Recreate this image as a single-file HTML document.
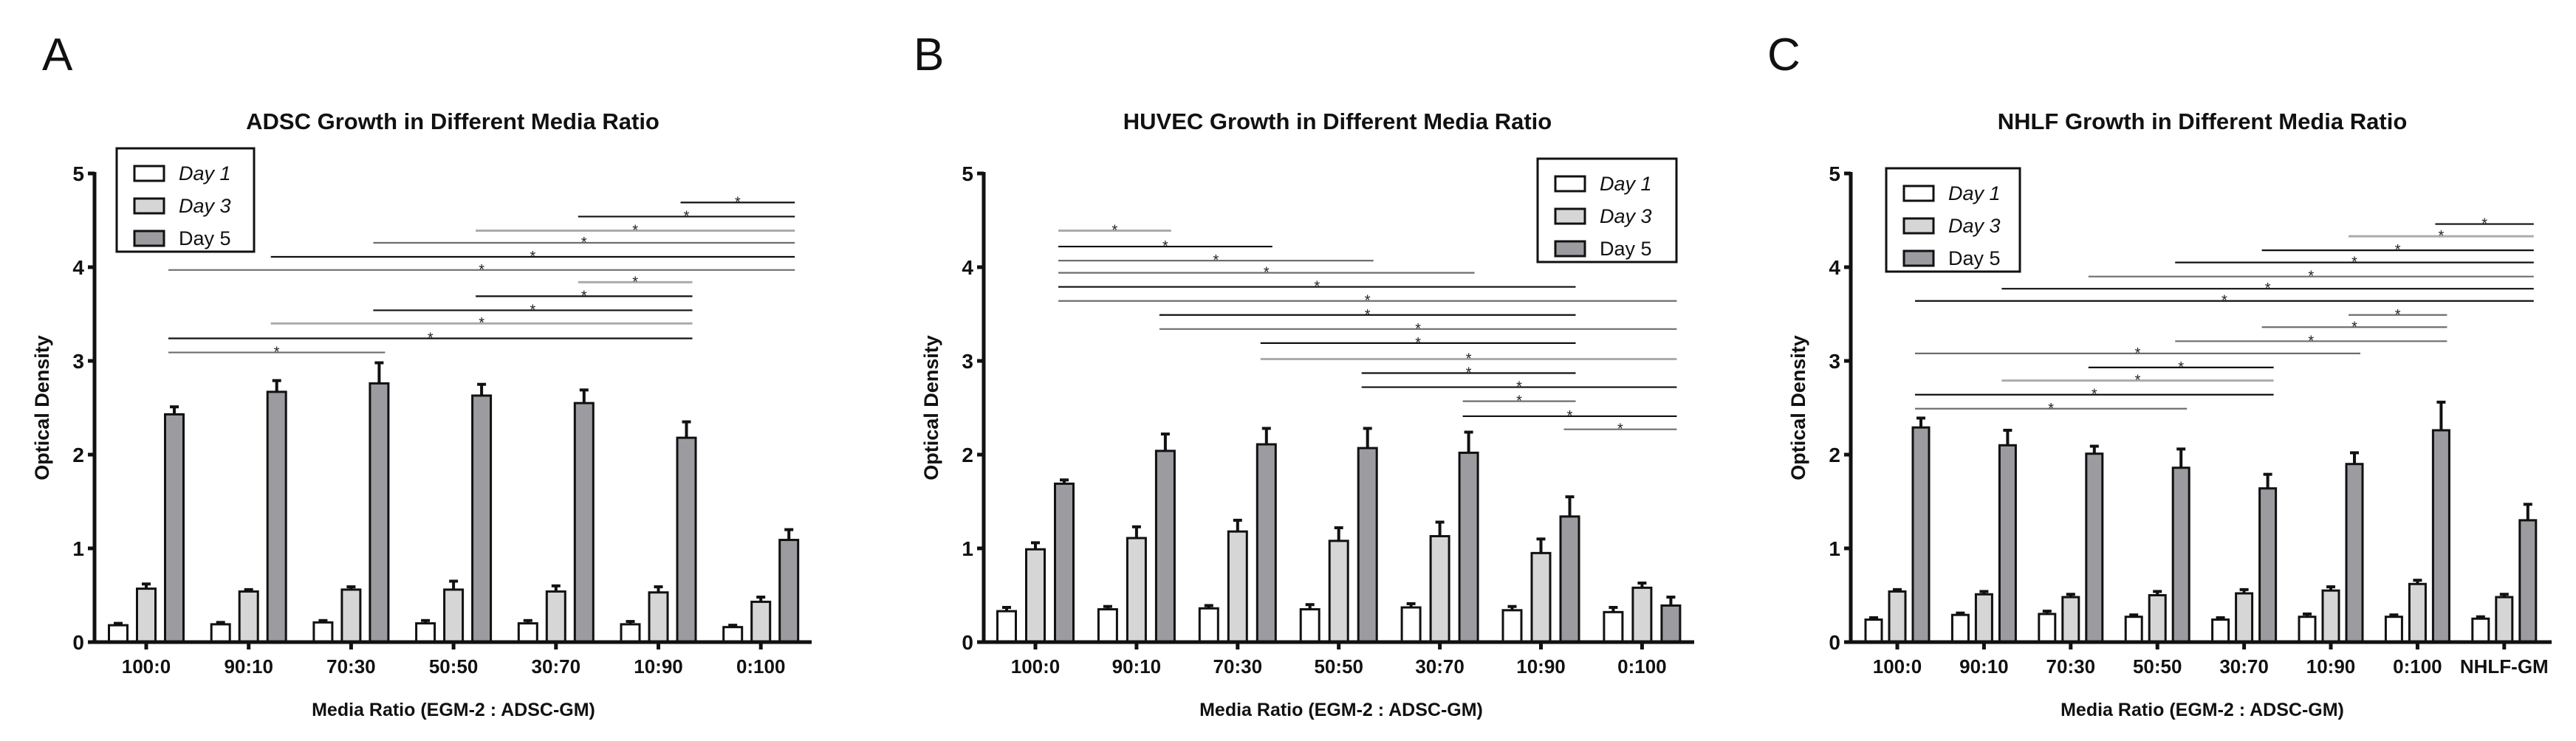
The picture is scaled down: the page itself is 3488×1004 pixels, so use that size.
<!DOCTYPE html>
<html><head><meta charset="utf-8"><style>
html,body{margin:0;padding:0;background:#fff;}
svg{display:block;font-family:"Liberation Sans",Arial,sans-serif;}
</style></head><body>
<svg id="fig" width="3488" height="1004" viewBox="0 0 3488 1004" xmlns="http://www.w3.org/2000/svg"></svg>
<script>
const NS="http://www.w3.org/2000/svg";
const svg=document.getElementById('fig');
// ---- data ----
const catsAB=["100:0","90:10","70:30","50:50","30:70","10:90","0:100"];
const catsC=["100:0","90:10","70:30","50:50","30:70","10:90","0:100","NHLF-GM"];
const yTicks=["0","1","2","3","4","5"];
const seriesNames=["Day 1","Day 3","Day 5"];
const a_d1=[0.18,0.19,0.21,0.20,0.20,0.19,0.16];
const a_d1e=[0.02,0.02,0.02,0.03,0.03,0.03,0.02];
const a_d3=[0.57,0.54,0.56,0.56,0.54,0.53,0.43];
const a_d3e=[0.05,0.02,0.03,0.09,0.06,0.06,0.05];
const a_d5=[2.43,2.67,2.76,2.63,2.55,2.18,1.09];
const a_d5e=[0.08,0.12,0.22,0.12,0.14,0.17,0.11];
const b_d1=[0.33,0.35,0.36,0.35,0.37,0.34,0.32];
const b_d1e=[0.04,0.03,0.03,0.05,0.04,0.04,0.05];
const b_d3=[0.99,1.11,1.18,1.08,1.13,0.95,0.58];
const b_d3e=[0.07,0.12,0.12,0.14,0.15,0.15,0.05];
const b_d5=[1.69,2.04,2.11,2.07,2.02,1.34,0.39];
const b_d5e=[0.04,0.18,0.17,0.21,0.22,0.21,0.09];
const c_d1=[0.24,0.29,0.30,0.27,0.24,0.27,0.27,0.25];
const c_d1e=[0.02,0.02,0.03,0.02,0.02,0.03,0.02,0.02];
const c_d3=[0.54,0.51,0.48,0.50,0.52,0.55,0.62,0.48];
const c_d3e=[0.02,0.03,0.03,0.04,0.04,0.04,0.04,0.03];
const c_d5=[2.29,2.10,2.01,1.86,1.64,1.90,2.26,1.30];
const c_d5e=[0.10,0.16,0.08,0.20,0.15,0.12,0.30,0.17];
// significance brackets: from group, to group, y value, shade (0 black,1 gray,2 light)
const a_sigFrom=[0,0,1,2,3,4,0,1,2,3,4,5];
const a_sigTo=[2,5,5,5,5,5,6,6,6,6,6,6];
const a_sigY=[3.09,3.24,3.40,3.54,3.69,3.84,3.97,4.11,4.26,4.39,4.54,4.69];
const a_sigC=[1,0,2,0,0,2,1,0,1,2,0,0];
const b_sigFrom=[0,0,0,0,0,0,1,1,2,2,3,3,4,4,5];
const b_sigTo=[1,2,3,4,5,6,5,6,5,6,5,6,5,6,6];
const b_sigY=[4.39,4.22,4.07,3.94,3.79,3.64,3.49,3.34,3.19,3.02,2.87,2.72,2.57,2.41,2.27];
const b_sigC=[2,0,1,1,0,1,0,1,0,2,0,0,1,0,1];
const c_sigFrom=[0,0,1,2,0,3,4,5,0,1,2,3,4,5,6];
const c_sigTo=[3,4,4,4,5,6,6,6,7,7,7,7,7,7,7];
const c_sigY=[2.49,2.64,2.79,2.93,3.08,3.21,3.36,3.49,3.64,3.77,3.90,4.05,4.18,4.33,4.46];
const c_sigC=[1,0,2,0,1,1,1,1,0,0,1,0,0,2,0];

const fills=["#ffffff","#d6d6d6","#9b9ba0"];
const lineCols=["#111111","#6e6e6e","#ababab"];

function el(tag,attrs,parent,text){const e=document.createElementNS(NS,tag);for(const k in attrs)e.setAttribute(k,attrs[k]);if(text!==undefined)e.textContent=text;(parent||svg).appendChild(e);return e;}

function panel(cfg){
  const g=el('g',{});
  
  
  const y0=870,unit=127;
  const Y=v=>y0-v*unit;
  const X=i=>cfg.x0+i*cfg.step;
  const off=[-cfg.off,0,cfg.off];
  const letter=el('text',{x:cfg.letterX,y:95,'font-size':62,fill:'#111'},g,cfg.letter);
  
  const t=el('text',{x:cfg.titleX,y:175,'font-size':31,'font-weight':'bold','text-anchor':'middle',fill:'#111'},g,cfg.title);
  
  // y ticks
  yTicks.forEach((lab,k)=>{
    const tk=el('line',{x1:cfg.axX-9,x2:cfg.axX,y1:Y(k),y2:Y(k),stroke:'#111','stroke-width':5},g);
    
    const tl=el('text',{x:cfg.axX-14,y:Y(k)+10,'font-size':28,'font-weight':'bold','text-anchor':'end',fill:'#111'},g,lab);
    
  });
  const yt=el('text',{transform:`translate(${cfg.axX-62},${Y(2.5)}) rotate(-90)`,'font-size':27,'font-weight':'bold','text-anchor':'middle',fill:'#111'},g,'Optical Density');
  
  // bars
  const sets=[[cfg.d1,cfg.d1e],[cfg.d3,cfg.d3e],[cfg.d5,cfg.d5e]];
  cfg.cats.forEach((c,i)=>{
    sets.forEach((s,k)=>{
      const cx=X(i)+off[k],v=s[0][i],e=s[1][i],w=cfg.bw;
      const eb=el('line',{x1:cx,x2:cx,y1:Y(v),y2:Y(v+e),stroke:'#111','stroke-width':4},g);
      
      const cap=el('line',{x1:cx-6,x2:cx+6,y1:Y(v+e),y2:Y(v+e),stroke:'#111','stroke-width':4},g);
      
      const r=el('rect',{x:cx-w/2,y:Y(v),width:w,height:v*unit,fill:fills[k],stroke:'#111','stroke-width':3},g);
      
      
    });
    const xt=el('line',{x1:X(i),x2:X(i),y1:y0,y2:y0+10,stroke:'#111','stroke-width':5},g);
    
    const xl=el('text',{x:X(i),y:912,'font-size':26,'font-weight':'bold','text-anchor':'middle',fill:'#111'},g,c);
    
  });
  const ax=el('line',{x1:cfg.axX,x2:cfg.axX,y1:Y(5)-2,y2:y0+2,stroke:'#111','stroke-width':5},g);
  
  const axx=el('line',{x1:cfg.axX-2,x2:cfg.axEnd,y1:y0,y2:y0,stroke:'#111','stroke-width':5},g);
  
  const xtt=el('text',{x:cfg.xTitleX,y:970,'font-size':25,'font-weight':'bold','text-anchor':'middle',fill:'#111'},g,'Media Ratio (EGM-2 : ADSC-GM)');
  
  // significance
  cfg.sf.forEach((f,n)=>{
    const xa=X(f)+cfg.off-8,xb=X(cfg.st[n])+cfg.off+8,yy=Y(cfg.sy[n]);
    const ln=el('line',{x1:xa,x2:xb,y1:yy,y2:yy,stroke:lineCols[cfg.sc[n]],'stroke-width':cfg.sc[n]==2?3:2.2},g);
    
    const st=el('text',{x:(xa+xb)/2,y:yy+6,'font-size':20,'text-anchor':'middle',fill:'#222'},g,'*');
    
  });
  // legend
  const lg=el('g',{},g);
  
  el('rect',{x:cfg.lx,y:cfg.ly,width:cfg.lw,height:140,fill:'#fff',stroke:'#111','stroke-width':3},lg);
  seriesNames.forEach((s,k)=>{
    const yy=cfg.ly+24+k*44;
    const sw=el('rect',{x:cfg.lx+24,y:yy,width:40,height:20,fill:fills[k],stroke:'#111','stroke-width':3},lg);
    
    const tx=el('text',{x:cfg.lx+84,y:yy+19,'font-size':27,'font-style':k<2?'italic':'normal',fill:'#111'},lg,s);
    
  });
}
panel({name:'panel-a-adsc',letter:'A',letterX:57,title:'ADSC Growth in Different Media Ratio',titleX:613,axX:128,axEnd:1099,x0:198,step:138.7,off:38,bw:25,cats:catsAB,
 d1:a_d1,d1e:a_d1e,d3:a_d3,d3e:a_d3e,d5:a_d5,d5e:a_d5e,sf:a_sigFrom,st:a_sigTo,sy:a_sigY,sc:a_sigC,lx:158,ly:201,lw:186,xTitleX:614});
panel({name:'panel-b-huvec',letter:'B',letterX:1237,title:'HUVEC Growth in Different Media Ratio',titleX:1811,axX:1332,axEnd:2294,x0:1402,step:136.9,off:39,bw:25,cats:catsAB,
 d1:b_d1,d1e:b_d1e,d3:b_d3,d3e:b_d3e,d5:b_d5,d5e:b_d5e,sf:b_sigFrom,st:b_sigTo,sy:b_sigY,sc:b_sigC,lx:2082,ly:215,lw:188,xTitleX:1816});
panel({name:'panel-c-nhlf',letter:'C',letterX:2393,title:'NHLF Growth in Different Media Ratio',titleX:2982,axX:2506,axEnd:3455,x0:2569,step:117.4,off:32,bw:22,cats:catsC,
 d1:c_d1,d1e:c_d1e,d3:c_d3,d3e:c_d3e,d5:c_d5,d5e:c_d5e,sf:c_sigFrom,st:c_sigTo,sy:c_sigY,sc:c_sigC,lx:2554,ly:228,lw:181,xTitleX:2982});
</script>
</body></html>
